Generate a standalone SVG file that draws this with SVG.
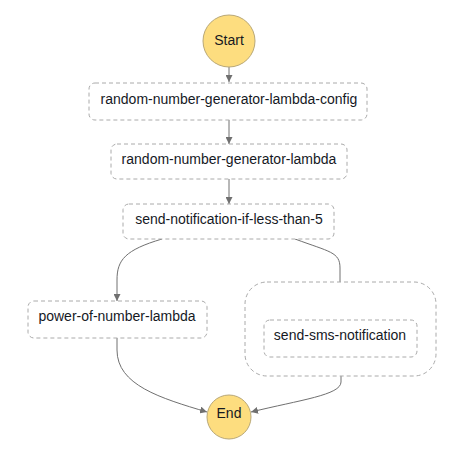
<svg xmlns="http://www.w3.org/2000/svg" width="462" height="459" viewBox="0 0 462 459">
<style>
.box{fill:#fff;stroke:#aaa;stroke-width:1;stroke-dasharray:4 3}
.circ{fill:#fddd7f;stroke:#b9a877;stroke-width:1}
.lbl{font-family:"Liberation Sans",Arial,sans-serif;font-size:14px;fill:#16191f;text-anchor:middle;dominant-baseline:central}
.edge{fill:none;stroke:#707070;stroke-width:1;marker-end:url(#arr)}
</style>
<defs>
<marker id="arr" viewBox="0 0 10 10" refX="10" refY="5" markerWidth="7" markerHeight="7" markerUnits="userSpaceOnUse" orient="auto">
<path d="M0,0 L10,5 L0,10 z" fill="#707070"/>
</marker>
</defs>
<rect width="462" height="459" fill="#fff"/>
<g id="connectors">
<path class="edge" d="M229,67 V82"/>
<path class="edge" d="M229,120 V144"/>
<path class="edge" d="M229,179 V204"/>
<path class="edge" d="M162,239 C125,250 117,260 117,280 V301"/>
<path class="edge" d="M295,239 C330,252 340,252 340,268 V320"/>
<path class="edge" d="M117,338 V350 C117,385 160,398 207,412"/>
<path class="edge" d="M341,376 V382 C341,395 300,400 251,412"/>
</g>
<g id="start"><circle class="circ" cx="229" cy="41" r="26"/><text class="lbl" x="229" y="40">Start</text></g>
<g id="config"><rect class="box" x="89" y="83" width="278" height="37" rx="6"/><text class="lbl" x="229" y="99">random-number-generator-lambda-config</text></g>
<g id="generator"><rect class="box" x="111" y="144" width="236" height="35" rx="6"/><text class="lbl" x="229" y="159">random-number-generator-lambda</text></g>
<g id="choice"><rect class="box" x="123" y="204" width="211" height="35" rx="6"/><text class="lbl" x="229" y="219">send-notification-if-less-than-5</text></g>
<g id="power"><rect class="box" x="28" y="301" width="179" height="37" rx="6"/><text class="lbl" x="117" y="316">power-of-number-lambda</text></g>
<g id="parallel"><rect class="box" x="245" y="282" width="191" height="94" rx="22"/></g>
<g id="sms"><rect class="box" x="264" y="320" width="153" height="37" rx="6"/><text class="lbl" x="340" y="335">send-sms-notification</text></g>
<g id="end"><circle class="circ" cx="229" cy="417" r="22"/><text class="lbl" x="229" y="413">End</text></g>
</svg>
